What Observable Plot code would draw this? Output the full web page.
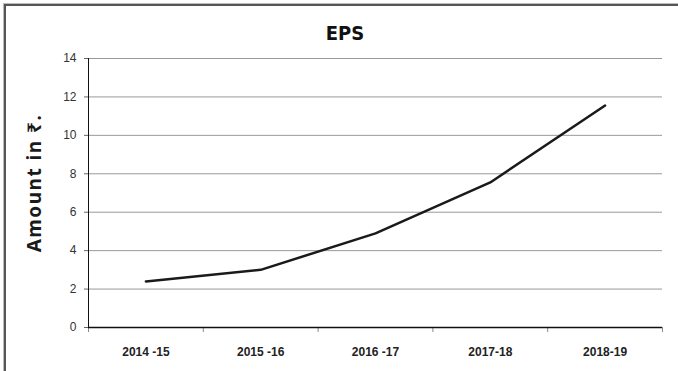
<!DOCTYPE html>
<html><head><meta charset="utf-8">
<script src="https://cdn.jsdelivr.net/npm/d3@7"></script>
<script src="https://cdn.jsdelivr.net/npm/@observablehq/plot@0.6"></script>
<style>
body{margin:0;background:#fff;}
#wrap{position:relative;width:678px;height:371px;overflow:hidden;}
#frame{position:absolute;left:4px;top:4px;width:700px;height:400px;border-left:2px solid #555;border-top:2px solid #555;box-shadow:-1px -1px 0 #bbb;}
#title{position:absolute;left:6px;width:678px;top:20px;text-align:center;font:bold 20px "DejaVu Sans Condensed","DejaVu Sans",sans-serif;color:#111;line-height:26px;}
#ylab{position:absolute;left:34px;top:183px;transform:translate(-50%,-50%) rotate(-90deg);white-space:nowrap;font:bold 19px "Noto Sans","DejaVu Sans",sans-serif;color:#1a1a1a;letter-spacing:1.5px;}
#chart{position:absolute;left:0;top:0;}
</style></head>
<body>
<div id="wrap"><div id="frame"></div><div id="chart"></div><div id="title">EPS</div><div id="ylab">Amount in ₹.</div></div>
<script>
const years = ["2014 -15","2015 -16","2016 -17","2017-18","2018-19"];
const eps = [2.4, 3.0, 4.9, 7.55, 11.55];
const yTicks = [0,2,4,6,8,10,12,14];

const data = years.map((y,i)=>({i: i+0.5, year: y, v: eps[i]}));
const font = '"Liberation Sans","Arial",sans-serif';
const chart = Plot.plot({
  width: 678, height: 371,
  marginTop: 58, marginBottom: 44, marginLeft: 88, marginRight: 16,
  style: {fontFamily: font, fontSize: "12px", color: "#222", background: "transparent"},
  x: {type: "linear", domain: [0, years.length], axis: null},
  y: {domain: [0, 14], axis: null},
  marks: [
    Plot.ruleY(yTicks.filter(d=>d>0), {stroke: "#999", strokeWidth: 1}),
    Plot.axisY(yTicks, {tickSize: 4, tickPadding: 8, stroke: "#666", fontSize: 12, fill: "#333", label: null}),
    Plot.axisX(d3.range(years.length+1), {tickSize: 5, tickFormat: () => "", stroke: "#888", label: null}),
    Plot.axisX(data.map(d=>d.i), {tickSize: 0, tickPadding: 20, tickFormat: d => years[Math.floor(d)], fontWeight: "bold", fontSize: 12, fill: "#222", label: null}),
    Plot.ruleX([0], {stroke: "#111", strokeWidth: 1}),
    Plot.ruleY([0], {stroke: "#111", strokeWidth: 1.5}),
    Plot.line(data, {x: "i", y: "v", stroke: "#1a1a1a", strokeWidth: 2.5})
  ]
});
document.getElementById("chart").appendChild(chart);
</script>
</body></html>
